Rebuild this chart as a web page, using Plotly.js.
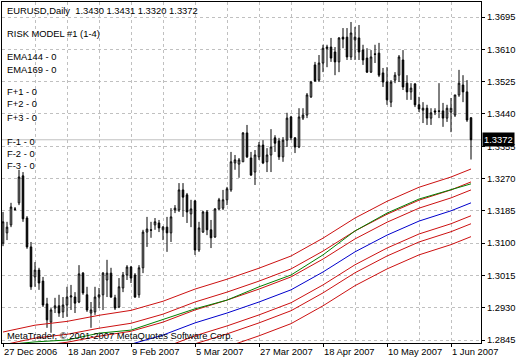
<!DOCTYPE html>
<html>
<head>
<meta charset="utf-8">
<script src="https://cdn.plot.ly/plotly-3.0.1.min.js"></script>
<style>html,body{margin:0;padding:0;background:#fff;}#chart{width:520px;height:360px;}</style>
</head>
<body>
<div id="chart"></div>
<script>
// ---- Data (EURUSD daily, 27 Dec 2006 .. 8 Jun 2007) ----
const opens = [1.3100,1.3127,1.3148,1.3190,1.3206,1.3277,1.3166,1.3090,1.3011,1.3029,
1.3000,1.2940,1.2892,1.2929,1.2935,1.2919,1.2937,1.2958,1.2958,1.2945,
1.3021,1.2964,1.2916,1.2919,1.2958,1.2964,1.3003,1.3021,1.2956,1.2932,
1.2982,1.3016,1.3037,1.3016,1.2964,1.3035,1.3129,1.3135,1.3148,1.3153,
1.3135,1.3142,1.3127,1.3187,1.3187,1.3240,1.3227,1.3177,1.3211,1.3082,
1.3129,1.3182,1.3135,1.3116,1.3190,1.3192,1.3214,1.3240,1.3311,1.3308,
1.3314,1.3390,1.3324,1.3287,1.3327,1.3358,1.3314,1.3332,1.3377,1.3369,
1.3327,1.3371,1.3432,1.3377,1.3353,1.3429,1.3437,1.3485,1.3569,1.3529,
1.3574,1.3612,1.3616,1.3603,1.3577,1.3642,1.3642,1.3590,1.3635,1.3640,
1.3608,1.3587,1.3550,1.3598,1.3600,1.3548,1.3524,1.3471,1.3529,1.3542,
1.3582,1.3521,1.3498,1.3519,1.3464,1.3450,1.3455,1.3429,1.3448,1.3448,
1.3448,1.3429,1.3445,1.3437,1.3490,1.3516,1.3498,1.3430];
const highs = [1.3182,1.3156,1.3206,1.3195,1.3293,1.3287,1.3171,1.3103,1.3050,1.3035,
1.3011,1.2956,1.2929,1.2956,1.2964,1.2958,1.2985,1.2990,1.2971,1.3042,
1.3024,1.2985,1.2945,1.2985,1.2982,1.3024,1.3056,1.3035,1.2964,1.3008,
1.3024,1.3042,1.3040,1.3021,1.3042,1.3135,1.3169,1.3156,1.3166,1.3161,
1.3145,1.3169,1.3192,1.3200,1.3258,1.3258,1.3232,1.3214,1.3214,1.3156,
1.3185,1.3187,1.3161,1.3192,1.3219,1.3240,1.3248,1.3340,1.3332,1.3324,
1.3392,1.3411,1.3340,1.3345,1.3366,1.3371,1.3350,1.3400,1.3384,1.3377,
1.3379,1.3443,1.3435,1.3379,1.3455,1.3455,1.3495,1.3527,1.3577,1.3595,
1.3622,1.3622,1.3640,1.3616,1.3642,1.3666,1.3666,1.3682,1.3669,1.3674,
1.3622,1.3613,1.3608,1.3622,1.3627,1.3561,1.3563,1.3529,1.3550,1.3595,
1.3608,1.3542,1.3521,1.3521,1.3485,1.3471,1.3464,1.3455,1.3455,1.3521,
1.3469,1.3464,1.3482,1.3490,1.3556,1.3542,1.3529,1.3431];
const lows = [1.3092,1.3108,1.3142,1.3185,1.3200,1.3156,1.3085,1.2977,1.2985,1.2977,
1.2932,1.2877,1.2864,1.2916,1.2906,1.2903,1.2906,1.2924,1.2916,1.2942,
1.2964,1.2919,1.2877,1.2911,1.2929,1.2924,1.2958,1.2956,1.2924,1.2929,
1.2971,1.3003,1.2995,1.2956,1.2956,1.3021,1.3090,1.3114,1.3135,1.3129,
1.3108,1.3077,1.3103,1.3179,1.3182,1.3169,1.3153,1.3142,1.3069,1.3077,
1.3127,1.3121,1.3087,1.3114,1.3187,1.3187,1.3200,1.3235,1.3293,1.3272,
1.3314,1.3324,1.3277,1.3253,1.3319,1.3308,1.3287,1.3287,1.3340,1.3319,
1.3314,1.3353,1.3371,1.3337,1.3350,1.3424,1.3429,1.3482,1.3524,1.3524,
1.3550,1.3563,1.3577,1.3542,1.3550,1.3613,1.3582,1.3582,1.3582,1.3582,
1.3569,1.3548,1.3548,1.3574,1.3537,1.3511,1.3464,1.3458,1.3521,1.3524,
1.3503,1.3477,1.3477,1.3458,1.3445,1.3416,1.3411,1.3411,1.3437,1.3429,
1.3406,1.3419,1.3392,1.3432,1.3485,1.3471,1.3419,1.3320];
const closes = [1.3156,1.3142,1.3195,1.3189,1.3274,1.3164,1.3090,1.2985,1.3029,1.2995,
1.2937,1.2898,1.2924,1.2935,1.2916,1.2937,1.2958,1.2961,1.2942,1.3019,
1.2969,1.2924,1.2924,1.2958,1.2964,1.3021,1.3021,1.2958,1.2929,1.2985,
1.3016,1.3037,1.3008,1.2958,1.3035,1.3129,1.3137,1.3134,1.3156,1.3140,
1.3142,1.3127,1.3169,1.3192,1.3240,1.3221,1.3182,1.3190,1.3082,1.3140,
1.3182,1.3135,1.3114,1.3190,1.3214,1.3214,1.3243,1.3314,1.3319,1.3319,
1.3390,1.3327,1.3279,1.3332,1.3358,1.3311,1.3332,1.3353,1.3363,1.3327,
1.3371,1.3429,1.3377,1.3353,1.3432,1.3437,1.3490,1.3524,1.3527,1.3574,
1.3613,1.3616,1.3587,1.3577,1.3640,1.3637,1.3590,1.3653,1.3642,1.3603,
1.3582,1.3550,1.3590,1.3597,1.3542,1.3524,1.3477,1.3524,1.3542,1.3590,
1.3511,1.3498,1.3508,1.3464,1.3453,1.3455,1.3429,1.3443,1.3445,1.3447,
1.3429,1.3455,1.3455,1.3490,1.3521,1.3498,1.3424,1.3372];

// Indicator lines, read at every 8th bar (and the last bar)
const lineBars = [0,8,16,24,32,40,48,56,64,72,80,88,96,104,112,117];
const ema144 = [1.2832,1.2840,1.2845,1.2863,1.2871,1.2898,1.2927,1.2950,1.2985,1.3016,1.3069,1.3132,1.3179,1.3216,1.3240,1.3256];
const ema169 = [1.2777,1.2795,1.2805,1.2821,1.2834,1.2858,1.2890,1.2916,1.2945,1.2977,1.3024,1.3077,1.3121,1.3158,1.3185,1.3206];
const fPlus3 = [1.2866,1.2884,1.2894,1.2910,1.2923,1.2947,1.2979,1.3005,1.3034,1.3066,1.3113,1.3166,1.3210,1.3247,1.3274,1.3295];
const fPlus2 = [1.2832,1.2850,1.2860,1.2876,1.2889,1.2913,1.2945,1.2971,1.3000,1.3032,1.3079,1.3132,1.3176,1.3213,1.3240,1.3261];
const fPlus1 = [1.2811,1.2829,1.2839,1.2855,1.2868,1.2892,1.2924,1.2950,1.2979,1.3011,1.3058,1.3111,1.3155,1.3192,1.3219,1.3240];
const fMinus1 = [1.2743,1.2761,1.2771,1.2787,1.2800,1.2824,1.2856,1.2882,1.2911,1.2943,1.2990,1.3043,1.3087,1.3124,1.3151,1.3172];
const fMinus2 = [1.2722,1.2740,1.2750,1.2766,1.2779,1.2803,1.2835,1.2861,1.2890,1.2922,1.2969,1.3022,1.3066,1.3103,1.3130,1.3151];
const fMinus3 = [1.2688,1.2706,1.2716,1.2732,1.2745,1.2769,1.2801,1.2827,1.2856,1.2888,1.2935,1.2988,1.3032,1.3069,1.3096,1.3117];

const dateTickBars = [0,16,32,48,64,80,96,112];
const dateTickText = ['27 Dec 2006','18 Jan 2007','9 Feb 2007','5 Mar 2007','27 Mar 2007','18 Apr 2007','10 May 2007','1 Jun 2007'];
const priceTick0 = 1.2845, priceTickStep = 0.0085;

const headerText = 'EURUSD,Daily  1.3430 1.3431 1.3320 1.3372';
const indicatorText = ['RISK MODEL #1 (1-4)','EMA144 - 0','EMA169 - 0','F+1 - 0','F+2 - 0','F+3 - 0','F-1 - 0','F-2 - 0','F-3 - 0'];
const copyrightText = 'MetaTrader, \u00a9 2001-2007 MetaQuotes Software Corp.';

// ---- Font choice: a narrow sans if installed, else Liberation Sans a bit smaller ----
function hasFont(name) {
  const c = document.createElement('canvas').getContext('2d');
  const s = 'abcdefghijklmnop 0123456789';
  c.font = '40px monospace'; const w1 = c.measureText(s).width;
  c.font = "40px '" + name + "', monospace"; const w2 = c.measureText(s).width;
  return Math.abs(w1 - w2) > 0.5;
}
let FONT, FS;
if (hasFont('Liberation Sans Narrow')) { FONT = "'Liberation Sans Narrow'"; FS = 11; }
else { FONT = "'Liberation Sans', Arial, sans-serif"; FS = 9.4; }

// ---- Layout helpers ----
const W = 520, H = 360;
const M = {l: 2, r: 39, t: 2, b: 17};
const plotH = H - M.t - M.b, plotW = W - M.l - M.r;
const py = px => (H - M.b - px) / plotH;   // pixel row -> paper y
const pxX = px => (px - M.l) / plotW;      // pixel col -> paper x
const RED = '#cc1010';

const bars = closes.map((_, i) => i);

const traces = [];
const lineDefs = [
  [fMinus3, RED], [fMinus2, RED], [fMinus1, RED], [ema169, '#0000cc'],
  [fPlus1, RED], [fPlus2, RED], [ema144, '#008000'], [fPlus3, RED]
];
lineDefs.forEach(([vals, col]) => {
  traces.push({type: 'scatter', mode: 'lines', x: lineBars, y: vals,
    line: {color: col, width: 1}, hoverinfo: 'skip', showlegend: false});
});
traces.push({
  type: 'candlestick', x: bars, open: opens, high: highs, low: lows, close: closes,
  increasing: {line: {color: '#000', width: 1}, fillcolor: '#ffffff'},
  decreasing: {line: {color: '#000', width: 1}, fillcolor: '#000000'},
  whiskerwidth: 0, hoverinfo: 'skip', showlegend: false
});

const txtFont = {family: FONT, size: FS, color: '#000'};
const annotations = [];
annotations.push({xref: 'paper', yref: 'paper', x: pxX(5), y: py(11), xanchor: 'left', yanchor: 'middle',
  text: headerText.replace(/ /g, '&nbsp;'), showarrow: false, font: txtFont});
const indY = [33, 57, 69, 91, 104, 117, 141, 153, 165];
indicatorText.forEach((t, k) => {
  annotations.push({xref: 'paper', yref: 'paper', x: pxX(5), y: py(indY[k]), xanchor: 'left', yanchor: 'middle',
    text: t, showarrow: false, font: txtFont});
});
annotations.push({xref: 'paper', yref: 'paper', x: pxX(5), y: py(335), xanchor: 'left', yanchor: 'middle',
  text: copyrightText, showarrow: false, font: txtFont});
dateTickBars.forEach((b, k) => {
  annotations.push({xref: 'x', yref: 'paper', x: b, y: py(351), xanchor: 'left', yanchor: 'middle', xshift: -1,
    text: dateTickText[k], showarrow: false, font: txtFont});
});
const lastClose = closes[closes.length - 1];
annotations.push({xref: 'paper', yref: 'y', x: 1, y: lastClose, xanchor: 'left', yanchor: 'middle', xshift: 1,
  text: lastClose.toFixed(4), showarrow: false, bgcolor: '#000', borderpad: 1,
  font: {family: FONT, size: FS, color: '#fff'}});

const layout = {
  width: W, height: H, margin: M,
  paper_bgcolor: '#fff', plot_bgcolor: '#fff', showlegend: false, dragmode: false,
  boxgap: 0.45,
  xaxis: {
    range: [-0.25, 119.5], tickmode: 'linear', tick0: 0, dtick: 16,
    showticklabels: false, ticks: 'outside', ticklen: 3, tickcolor: '#000',
    showgrid: true, gridcolor: '#c0c0c0', griddash: '3px,3px', gridwidth: 1,
    minor: {tick0: 0, dtick: 8, showgrid: true, gridcolor: '#c0c0c0', griddash: '3px,3px', ticks: ''},
    showline: true, mirror: true, linecolor: '#000', linewidth: 1,
    zeroline: false, rangeslider: {visible: false}, fixedrange: true
  },
  yaxis: {
    side: 'right', range: [1.28371, 1.37346], tickmode: 'linear', tick0: priceTick0, dtick: priceTickStep,
    tickformat: '.4f', ticks: 'outside', ticklen: 3, tickcolor: '#000',
    tickfont: txtFont,
    showgrid: true, gridcolor: '#c0c0c0', griddash: '3px,3px', gridwidth: 1,
    showline: true, mirror: true, linecolor: '#000', linewidth: 1, zeroline: false, fixedrange: true
  },
  shapes: [{type: 'line', xref: 'paper', yref: 'y', x0: 0, x1: 1, y0: lastClose, y1: lastClose,
    line: {color: '#c0c0c0', width: 1}, layer: 'below'}],
  annotations: annotations
};

Plotly.newPlot('chart', traces, layout, {staticPlot: true, displayModeBar: false});
</script>
</body>
</html>
